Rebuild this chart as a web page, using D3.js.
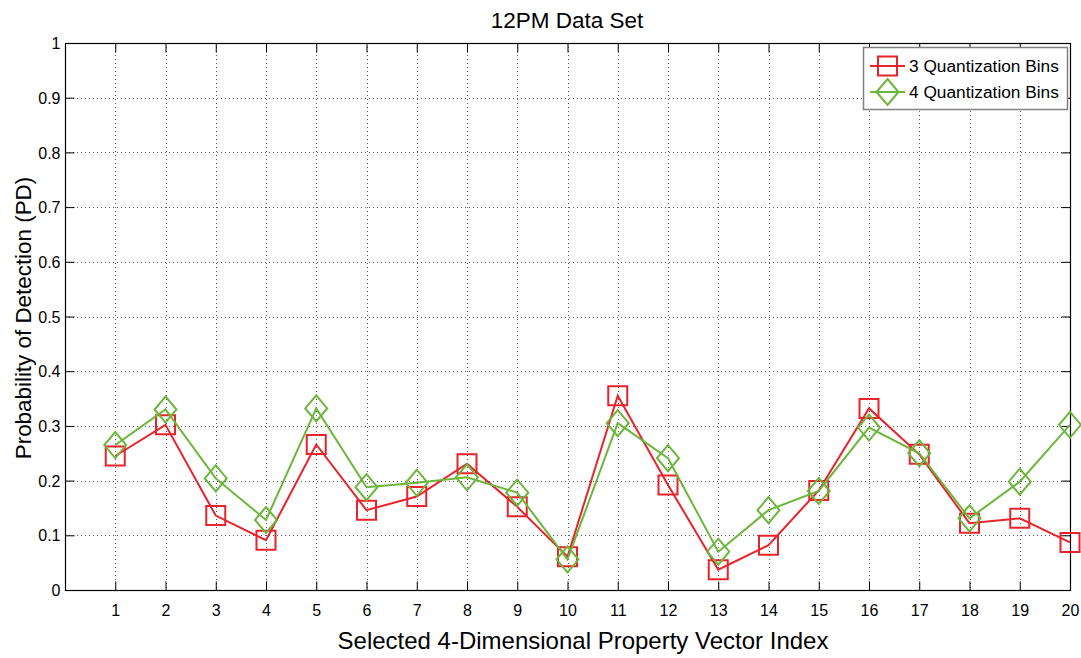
<!DOCTYPE html>
<html>
<head>
<meta charset="utf-8">
<script src="https://cdn.jsdelivr.net/npm/d3@7"></script>
<style>
  html, body { margin: 0; padding: 0; background: #fff; }
  svg text { font-family: "Liberation Sans", Arial, Helvetica, sans-serif; fill: #000; }
</style>
</head>
<body>
<svg id="chart" width="1081" height="658"></svg>
<script>
// Vector indices on the x axis
const vectorIndex = [1, 2, 3, 4, 5, 6, 7, 8, 9, 10, 11, 12, 13, 14, 15, 16, 17, 18, 19, 20];
// Probability of detection for each quantization setting
const pd3Bins = [0.245, 0.302, 0.136, 0.091, 0.266, 0.146, 0.171, 0.231, 0.152, 0.061,
                 0.355, 0.192, 0.037, 0.082, 0.182, 0.332, 0.248, 0.122, 0.131, 0.087];
const pd4Bins = [0.265, 0.330, 0.204, 0.128, 0.332, 0.188, 0.196, 0.206, 0.178, 0.056,
                 0.305, 0.241, 0.070, 0.146, 0.181, 0.297, 0.250, 0.131, 0.198, 0.302];
const seriesNames = ["3 Quantization Bins", "4 Quantization Bins"];
const yTickValues = [0, 0.1, 0.2, 0.3, 0.4, 0.5, 0.6, 0.7, 0.8, 0.9, 1];
const xTickValues = vectorIndex;

const titleText = "12PM Data Set";
const xLabelText = "Selected 4-Dimensional Property Vector Index";
const yLabelText = "Probability of Detection (PD)";

const RED = "#e8232b";
const GREEN = "#6cb63c";

const svg = d3.select("#chart");
const margin = { left: 65, right: 11, top: 43, bottom: 68 };
const W = 1081, H = 658;
const x = d3.scaleLinear().domain([0, 20]).range([margin.left, W - margin.right]);
const y = d3.scaleLinear().domain([0, 1]).range([H - margin.bottom, margin.top]);
const x0 = x.range()[0], x1 = x.range()[1], y0 = y.range()[0], y1 = y.range()[1];

// dotted grid
const grid = svg.append("g").attr("stroke", "#5a5a5a").attr("stroke-width", 1)
  .attr("stroke-dasharray", "1,3");
grid.selectAll(".gx").data(xTickValues.filter(d => d < 20)).join("line")
  .attr("x1", d => Math.round(x(d)) + 0.5).attr("x2", d => Math.round(x(d)) + 0.5)
  .attr("y1", y1).attr("y2", y0);
grid.selectAll(".gy").data(yTickValues.filter(d => d > 0 && d < 1)).join("line")
  .attr("y1", d => Math.round(y(d)) + 0.5).attr("y2", d => Math.round(y(d)) + 0.5)
  .attr("x1", x0).attr("x2", x1);

// axes with inward ticks on all four sides
const tickLen = 9;
const axB = svg.append("g").attr("transform", `translate(0,${Math.round(y0) + 0.5})`)
  .call(d3.axisBottom(x).tickValues(xTickValues).tickSizeInner(-tickLen).tickSizeOuter(0).tickPadding(14));
const axT = svg.append("g").attr("transform", `translate(0,${Math.round(y1) + 0.5})`)
  .call(d3.axisTop(x).tickValues(xTickValues).tickSizeInner(-tickLen).tickSizeOuter(0).tickFormat(""));
const axL = svg.append("g").attr("transform", `translate(${Math.round(x0) + 0.5},0)`)
  .call(d3.axisLeft(y).tickValues(yTickValues).tickSizeInner(-tickLen).tickSizeOuter(0).tickPadding(5)
    .tickFormat(d => d3.format("")(+d.toFixed(1))));
const axR = svg.append("g").attr("transform", `translate(${Math.round(x1) + 0.5},0)`)
  .call(d3.axisRight(y).tickValues(yTickValues).tickSizeInner(-tickLen).tickSizeOuter(0).tickFormat(""));
[axB, axT, axL, axR].forEach(a => {
  a.select(".domain").remove();
  a.selectAll("line").attr("stroke", "#000").attr("stroke-width", 1);
  a.selectAll("text").style("font-size", "16px").style("font-family", "\"Liberation Sans\", Arial, sans-serif");
});
axL.selectAll("text").attr("dy", "0.35em");

// box
svg.append("rect").attr("x", Math.round(x0) + 0.5).attr("y", Math.round(y1) + 0.5)
  .attr("width", Math.round(x1) - Math.round(x0)).attr("height", Math.round(y0) - Math.round(y1))
  .attr("fill", "none").attr("stroke", "#000").attr("stroke-width", 1.2);

// series
const line = d3.line().x((d, i) => x(vectorIndex[i])).y(d => y(d));
function squarePath(cx, cy, s) { const h = s / 2; return `M${cx - h},${cy - h}h${s}v${s}h${-s}Z`; }
function diamondPath(cx, cy, w, h) { return `M${cx},${cy - h / 2}L${cx + w / 2},${cy}L${cx},${cy + h / 2}L${cx - w / 2},${cy}Z`; }

svg.append("path").datum(pd3Bins).attr("d", line).attr("fill", "none")
  .attr("stroke", RED).attr("stroke-width", 2);
svg.append("g").selectAll("path").data(pd3Bins).join("path")
  .attr("d", (d, i) => squarePath(x(vectorIndex[i]), y(d), 19))
  .attr("fill", "none").attr("stroke", RED).attr("stroke-width", 2);

svg.append("path").datum(pd4Bins).attr("d", line).attr("fill", "none")
  .attr("stroke", GREEN).attr("stroke-width", 2);
svg.append("g").selectAll("path").data(pd4Bins).join("path")
  .attr("d", (d, i) => diamondPath(x(vectorIndex[i]), y(d), 22, 26))
  .attr("fill", "none").attr("stroke", GREEN).attr("stroke-width", 2);

// legend
const lg = svg.append("g");
lg.append("rect").attr("x", 863.5).attr("y", 47.5).attr("width", 204).attr("height", 62)
  .attr("fill", "#fff").attr("stroke", "#808080").attr("stroke-width", 1.5);
const rows = [66, 92];
lg.append("line").attr("x1", 870).attr("x2", 905).attr("y1", rows[0]).attr("y2", rows[0])
  .attr("stroke", RED).attr("stroke-width", 2);
lg.append("path").attr("d", squarePath(887.5, rows[0], 19)).attr("fill", "none").attr("stroke", RED).attr("stroke-width", 2);
lg.append("line").attr("x1", 870).attr("x2", 905).attr("y1", rows[1]).attr("y2", rows[1])
  .attr("stroke", GREEN).attr("stroke-width", 2);
lg.append("path").attr("d", diamondPath(887.5, rows[1], 22, 26)).attr("fill", "none").attr("stroke", GREEN).attr("stroke-width", 2);
seriesNames.forEach((n, i) => {
  lg.append("text").attr("x", 909).attr("y", rows[i]).attr("dy", "0.35em")
    .style("font-size", "17.3px").text(n);
});

// title and axis labels
svg.append("text").attr("x", 567).attr("y", 28).attr("text-anchor", "middle")
  .style("font-size", "22.5px").text(titleText);
svg.append("text").attr("x", 583).attr("y", 649).attr("text-anchor", "middle")
  .style("font-size", "24px").text(xLabelText);
svg.append("text").attr("transform", "translate(31,318) rotate(-90)").attr("text-anchor", "middle")
  .style("font-size", "22.4px").text(yLabelText);
</script>
</body>
</html>
